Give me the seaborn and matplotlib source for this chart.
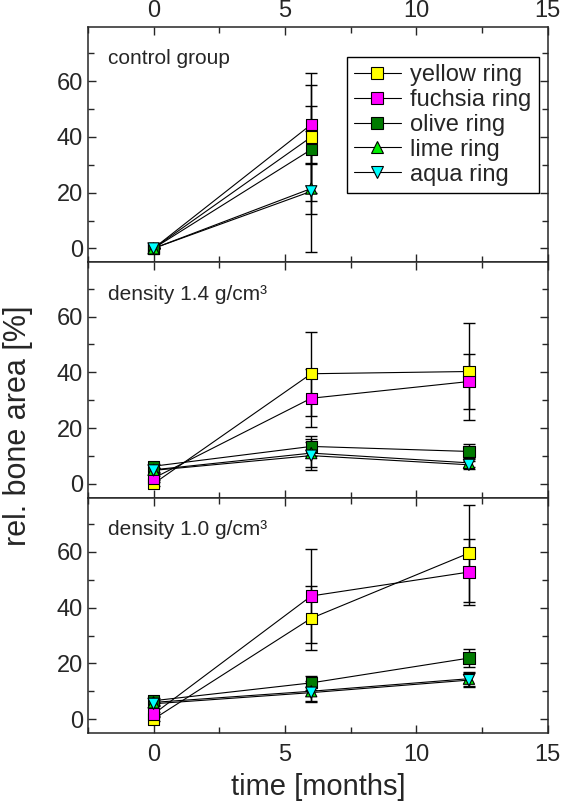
import numpy as np
import pandas as pd
import seaborn as sns
import matplotlib.pyplot as plt
from matplotlib.lines import Line2D
from matplotlib.ticker import MultipleLocator

# ring names, colours and markers
rings = ["yellow ring", "fuchsia ring", "olive ring", "lime ring", "aqua ring"]
colors = ["#ffff00", "#ff00ff", "#007a00", "#00ee00", "#00ffff"]
markers = ["s", "s", "s", "^", "v"]

panels = ["control group", "density 1.4 g/cm³", "density 1.0 g/cm³"]

# control group: months 0 and 6
ctrl_time = [0, 6]
ctrl_vals = {
    "yellow ring": [0, 40.0],
    "fuchsia ring": [0, 44.5],
    "olive ring": [0, 35.5],
    "lime ring": [0, 21.5],
    "aqua ring": [0, 20.5],
}
ctrl_err = {
    "yellow ring": [0, 23.0],
    "fuchsia ring": [0, 14.2],
    "olive ring": [0, 15.7],
    "lime ring": [0, 9.0],
    "aqua ring": [0, 21.8],
}

# density groups: months 0, 6, 12
dens_time = [0, 6, 12]
d14_vals = {
    "yellow ring": [0.0, 39.5, 40.3],
    "fuchsia ring": [2.0, 30.7, 36.7],
    "olive ring": [6.3, 13.4, 11.6],
    "lime ring": [5.0, 11.0, 7.5],
    "aqua ring": [4.8, 10.1, 6.8],
}
d14_err = {
    "yellow ring": [0.8, 15.0, 17.3],
    "fuchsia ring": [0.8, 10.5, 9.8],
    "olive ring": [0.8, 3.6, 2.5],
    "lime ring": [0.8, 5.0, 1.5],
    "aqua ring": [0.8, 5.0, 1.5],
}
d10_vals = {
    "yellow ring": [0.0, 36.2, 59.6],
    "fuchsia ring": [1.8, 44.2, 52.8],
    "olive ring": [6.6, 13.0, 21.9],
    "lime ring": [6.0, 10.0, 14.5],
    "aqua ring": [5.5, 9.5, 14.0],
}
d10_err = {
    "yellow ring": [0.8, 11.5, 17.4],
    "fuchsia ring": [0.8, 16.8, 11.8],
    "olive ring": [0.8, 2.5, 3.2],
    "lime ring": [0.8, 3.5, 2.5],
    "aqua ring": [0.8, 3.5, 2.5],
}

rows = []
for panel, t, vals, errs in [
    (panels[0], ctrl_time, ctrl_vals, ctrl_err),
    (panels[1], dens_time, d14_vals, d14_err),
    (panels[2], dens_time, d10_vals, d10_err),
]:
    for ring in rings:
        for i, ti in enumerate(t):
            rows.append({"panel": panel, "ring": ring, "time": ti,
                         "value": vals[ring][i], "err": errs[ring][i]})
df = pd.DataFrame(rows)

sns.set_style("ticks")
plt.rcParams["font.family"] = ["Liberation Sans", "DejaVu Sans"]
plt.rcParams["axes.linewidth"] = 1.1

palette = dict(zip(rings, colors))
marker_map = dict(zip(rings, markers))

fig, axes = plt.subplots(3, 1, figsize=(5.63, 8.08), dpi=100, sharex=True)
fig.subplots_adjust(left=0.156, right=0.973, top=0.9666, bottom=0.0928, hspace=0)

for ax, panel in zip(axes, panels):
    d = df[df["panel"] == panel]
    sns.lineplot(data=d, x="time", y="value", units="ring", estimator=None,
                 color="black", lw=0.8, legend=False, sort=False, ax=ax, zorder=2)
    ax.errorbar(d["time"], d["value"], yerr=d["err"], fmt="none", ecolor="black",
                elinewidth=1.0, capsize=4, capthick=1.0, zorder=1)
    sns.scatterplot(data=d, x="time", y="value", hue="ring", style="ring",
                    palette=palette, markers=marker_map, hue_order=rings,
                    style_order=rings, s=65, edgecolor="black", linewidth=0.8,
                    legend=False, ax=ax, zorder=3)
    ax.set_xlim(-2.5, 15)
    ax.set_ylim(-5, 79.5)
    ax.set_xlabel("")
    ax.set_ylabel("")
    ax.yaxis.set_major_locator(MultipleLocator(20))
    ax.yaxis.set_minor_locator(MultipleLocator(10))
    ax.xaxis.set_major_locator(MultipleLocator(5))
    ax.xaxis.set_minor_locator(MultipleLocator(2.5))
    ax.tick_params(which="both", direction="in", top=True, right=True,
                   labelsize=17, width=1.0)
    ax.tick_params(which="major", length=6)
    ax.tick_params(which="minor", length=4)
    ax.text(0.043, 0.865, panel, transform=ax.transAxes, fontsize=15,
            va="center", ha="left")

axes[0].tick_params(labeltop=True)
axes[2].tick_params(axis="x", which="major", pad=8)
axes[2].set_xlabel("time [months]", fontsize=21, labelpad=5)
fig.text(18 / 563, 1 - 426 / 808, "rel. bone area [%]", rotation=90,
         fontsize=22, ha="center", va="center")

handles = [Line2D([0], [0], color="black", lw=0.8, marker=m, markersize=8,
                  markerfacecolor=c, markeredgecolor="black", markeredgewidth=0.8)
           for c, m in zip(colors, markers)]
leg = axes[0].legend(handles, rings, loc="upper right", bbox_to_anchor=(0.98, 0.872),
                     fontsize=17, handlelength=2.0, handletextpad=0.4,
                     labelspacing=0.12, borderpad=0.3, borderaxespad=0,
                     fancybox=False, framealpha=1)
leg.get_frame().set_edgecolor("black")
leg.get_frame().set_linewidth(1.0)

fig.savefig("out.png", dpi=100)
